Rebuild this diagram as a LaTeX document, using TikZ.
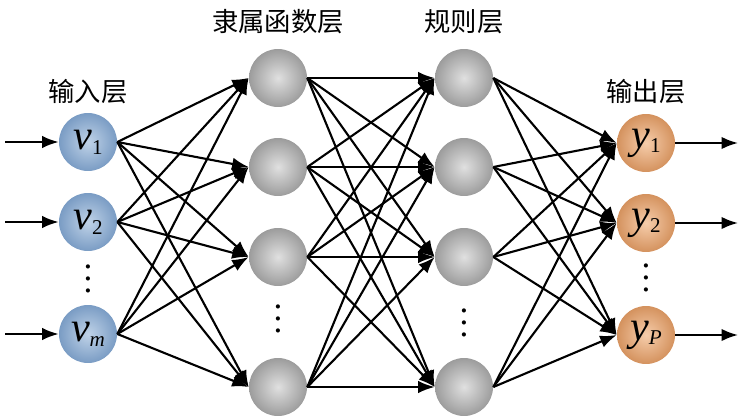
\documentclass[tikz,border=0pt]{standalone}
\usepackage{fontspec}
\setmainfont{Liberation Serif}
\newfontfamily\cjk{Noto Sans CJK SC}
\usetikzlibrary{arrows.meta,positioning}
\definecolor{blueinner}{HTML}{C0D3E8}
\definecolor{blueouter}{HTML}{7A9CC4}
\definecolor{grayinner}{HTML}{E0E0E0}
\definecolor{grayouter}{HTML}{9C9C9C}
\definecolor{orangeinner}{HTML}{F6CDAB}
\definecolor{orangeouter}{HTML}{D4925E}
\newcommand{\nodevar}[2]{{\fontsize{24}{24}\selectfont\itshape #1}\raisebox{-0.6ex}{\fontsize{12}{12}\selectfont #2}}
\newcommand{\layerdots}{\vbox{\baselineskip7pt\lineskiplimit0pt\hbox{.}\hbox{.}\hbox{.}}}

\begin{document}
\begin{tikzpicture}[x=0.02cm, y=-0.02cm,
  neuron/.style={circle, minimum size=1.16cm, inner sep=0pt, shading=radial, inner color=#1inner, outer color=#1outer},
  layername/.style={font=\cjk\fontsize{15}{15}\selectfont},
  vdots/.style={inner sep=0pt, font=\fontsize{20}{20}\selectfont},
  arr/.style={-{Latex[length=3.3mm, width=2.5mm]}, line width=1.2pt, black}
]
  \useasboundingbox (0,0) rectangle (754,419);

  % input layer
  \node[neuron=blue] (v1) at (88,142) {\nodevar{v}{1}};
  \node[neuron=blue] (v2) at (88,222) {\nodevar{v}{2}};
  \node[neuron=blue] (v3) at (88,334) {\nodevar{v}{\itshape m}};
  \node[vdots] (vd) at (88,279) {\layerdots};
  \node[layername] (lin) at (88,92) {输入层};

  % membership layer
  \node[neuron=gray] (m1) at (278,78) {};
  \node[neuron=gray] (m2) at (278,167) {};
  \node[neuron=gray] (m3) at (278,257) {};
  \node[neuron=gray] (m4) at (278,387) {};
  \node[vdots] (md) at (278,319) {\layerdots};
  \node[layername] (lmem) at (278,22) {隶属函数层};

  % rule layer
  \node[neuron=gray] (r1) at (464,78) {};
  \node[neuron=gray] (r2) at (464,167) {};
  \node[neuron=gray] (r3) at (464,257) {};
  \node[neuron=gray] (r4) at (464,387) {};
  \node[vdots] (rd) at (464,323) {\layerdots};
  \node[layername] (lrule) at (464,22) {规则层};

  % output layer
  \node[neuron=orange] (y1) at (646,143) {\nodevar{y}{1}};
  \node[neuron=orange] (y2) at (646,223) {\nodevar{y}{2}};
  \node[neuron=orange] (y3) at (646,335) {\nodevar{y}{\itshape P}};
  \node[vdots] (yd) at (646,278) {\layerdots};
  \node[layername] (lout) at (646,92) {输出层};

  % free ends of the in/out arrows
  \coordinate (a1) at (5,142);
  \coordinate (a2) at (5,222);
  \coordinate (a3) at (5,334);
  \coordinate (b1) at (738,143);
  \coordinate (b2) at (738,223);
  \coordinate (b3) at (738,335);

  \foreach \i in {1,2,3} {
    \draw[arr] (a\i) -- (v\i.west);
    \draw[arr] (y\i.east) -- (b\i);
    \foreach \j in {1,...,4}
      \draw[arr] (v\i.east) -- (m\j.west);
  }
  \foreach \i in {1,...,4} {
    \foreach \j in {1,...,4}
      \draw[arr] (m\i.east) -- (r\j.west);
    \foreach \j in {1,2,3}
      \draw[arr] (r\i.east) -- (y\j.west);
  }
\end{tikzpicture}
\end{document}
